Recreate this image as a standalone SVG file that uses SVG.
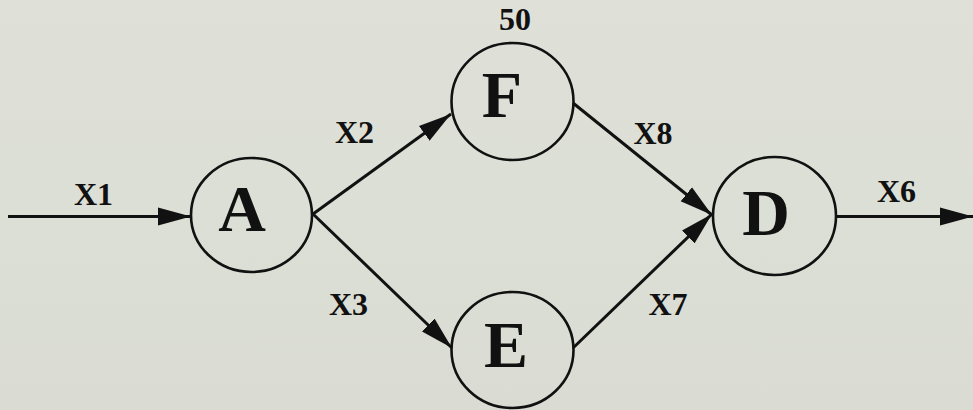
<svg xmlns="http://www.w3.org/2000/svg" width="973" height="410" viewBox="0 0 973 410">
<defs>
<marker id="ah" markerUnits="userSpaceOnUse" markerWidth="34" markerHeight="20" refX="33" refY="10" orient="auto">
<path d="M0,1 L33,10 L0,19 Z" fill="#111"/>
</marker>
<linearGradient id="bg" x1="0" y1="0" x2="0" y2="1">
<stop offset="0" stop-color="#dfe0d8"/>
<stop offset="0.5" stop-color="#dcdfd5"/>
<stop offset="1" stop-color="#dadcd3"/>
</linearGradient>
</defs>
<style>
.node ellipse{fill:none;stroke:#111;stroke-width:2.6}
.node text{font-family:"Liberation Serif","Times New Roman",serif;font-weight:bold;font-size:66px;fill:#111;text-anchor:middle}
.lbl{font-family:"Liberation Serif","Times New Roman",serif;font-weight:bold;font-size:32px;fill:#111;text-anchor:middle}
.edge{fill:none;stroke:#111;stroke-width:3;marker-end:url(#ah)}
</style>
<rect width="973" height="410" fill="url(#bg)"/>
<g id="connectors">
<line class="edge" x1="8" y1="216.5" x2="191" y2="216.5"/>
<line class="edge" x1="313" y1="214" x2="451" y2="114"/>
<line class="edge" x1="313" y1="214" x2="452" y2="348"/>
<line class="edge" x1="573" y1="103" x2="712" y2="215"/>
<line class="edge" x1="573" y1="348" x2="712" y2="214"/>
<line class="edge" x1="836" y1="216.5" x2="973" y2="216.5"/>
</g>
<g id="labels">
<text class="lbl" x="93.5" y="205">X1</text>
<text class="lbl" x="354.5" y="143">X2</text>
<text class="lbl" x="348.5" y="315">X3</text>
<text class="lbl" x="653" y="144">X8</text>
<text class="lbl" x="668" y="315">X7</text>
<text class="lbl" x="896.5" y="202">X6</text>
<text class="lbl" x="515" y="30">50</text>
</g>
<g id="node-A" class="node">
<ellipse cx="251.5" cy="215" rx="60.5" ry="57"/>
<text x="242" y="231">A</text>
</g>
<g id="node-F" class="node">
<ellipse cx="512.5" cy="101.5" rx="61" ry="58.5"/>
<text x="502" y="117">F</text>
</g>
<g id="node-E" class="node">
<ellipse cx="512.5" cy="350" rx="61" ry="58"/>
<text x="506" y="367">E</text>
</g>
<g id="node-D" class="node">
<ellipse cx="774.5" cy="216" rx="61.5" ry="59"/>
<text x="766" y="235">D</text>
</g>
</svg>
